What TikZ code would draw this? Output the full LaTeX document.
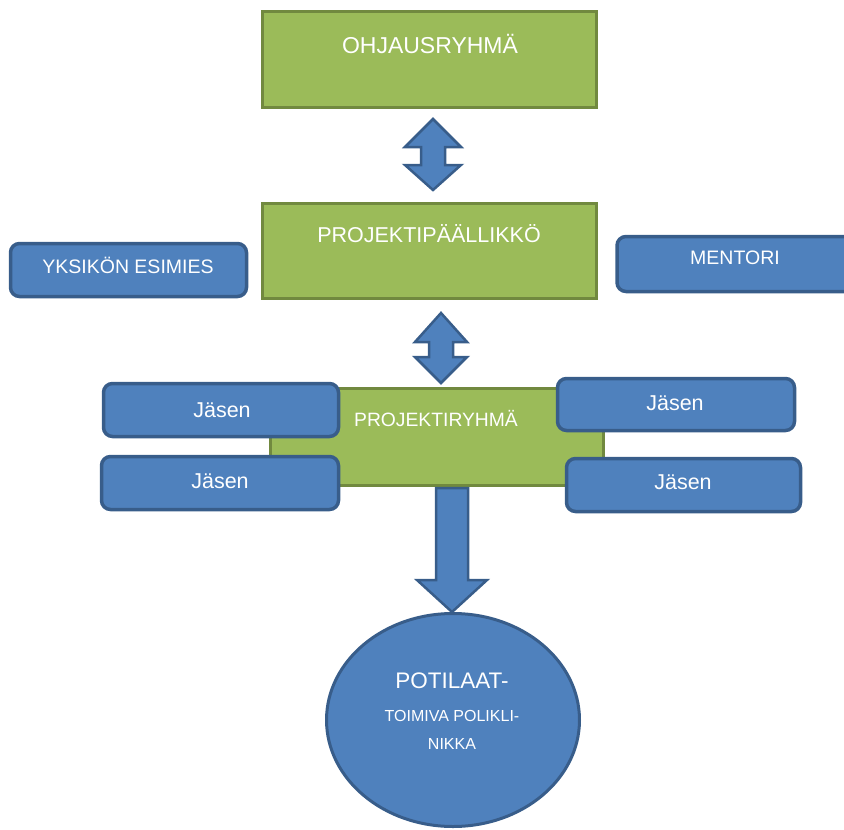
\documentclass[tikz,border=0pt]{standalone}
\usepackage{fontspec}
\setmainfont{Liberation Sans}
\usetikzlibrary{shapes.geometric}
\definecolor{gfill}{HTML}{9BBB59}
\definecolor{gline}{HTML}{71893F}
\definecolor{bfill}{HTML}{4F81BD}
\definecolor{bline}{HTML}{385D8A}
\tikzset{
  gbox/.style={draw=gline, fill=gfill, line width=3.5pt, rectangle, inner sep=0pt},
  bbox/.style={draw=bline, fill=bfill, line width=3.5pt, rectangle, rounded corners=9pt, inner sep=0pt},
  blockarrow/.style={draw=bline, fill=bfill, line width=2.5pt, line join=miter},
  txt/.style={text=white, inner sep=0pt, font=\fontsize{#1}{#1}\selectfont},
}
\begin{document}
\begin{tikzpicture}[x=1pt, y=-1pt]
\useasboundingbox (0,0) rectangle (844,830);
% green boxes
\node[gbox, minimum width=334pt, minimum height=96pt] (ohj) at (429.5,59.5) {};
\node[gbox, minimum width=334pt, minimum height=95pt] (ppl) at (429.5,251) {};
\node[gbox, minimum width=333pt, minimum height=97pt] (pr) at (437,437) {};
% blue side boxes
\node[bbox, minimum width=236pt, minimum height=53pt] (yks) at (128.5,270) {};
\node[bbox, minimum width=240pt, minimum height=55pt] (men) at (737,264) {};
% member boxes
\node[bbox, minimum width=235pt, minimum height=53pt] (j1) at (221,410) {};
\node[bbox, minimum width=237pt, minimum height=53pt] (j2) at (220,483) {};
\node[bbox, minimum width=237pt, minimum height=52pt] (j3) at (676,404.5) {};
\node[bbox, minimum width=234pt, minimum height=53pt] (j4) at (683.5,485) {};
% ellipse
\node[draw=bline, fill=bfill, line width=3pt, ellipse, minimum width=253pt, minimum height=213pt, inner sep=0pt] (pot) at (453,720) {};
% block arrows
\draw[blockarrow] (433,119) -- (461,147) -- (445,147) -- (445,165) -- (461,165) -- (433,190)
  -- (405,165) -- (421,165) -- (421,147) -- (405,147) -- cycle;
\draw[blockarrow] (441,313) -- (467,342) -- (453,342) -- (453,357) -- (467,357) -- (441,383)
  -- (415,357) -- (429,357) -- (429,342) -- (415,342) -- cycle;
\draw[blockarrow] (436,488) -- (468,488) -- (468,580) -- (487,580) -- (452,612)
  -- (417,580) -- (436,580) -- cycle;
% texts
\node[txt=23] (tohj) at (430,44) {OHJAUSRYHMÄ};
\node[txt=21.5] (tppl) at (429,234) {PROJEKTIPÄÄLLIKKÖ};
\node[txt=19.5] (tyks) at (128,265) {YKSIKÖN ESIMIES};
\node[txt=19.5] (tmen) at (735,258) {MENTORI};
\node[txt=19.3] (tpr) at (436,419) {PROJEKTIRYHMÄ};
\node[txt=21.5] (tj1) at (222,410) {Jäsen};
\node[txt=21.5] (tj2) at (220,481) {Jäsen};
\node[txt=21.5] (tj3) at (675,403) {Jäsen};
\node[txt=21.5] (tj4) at (683,482) {Jäsen};
\node[txt=22.5] (tpot1) at (452,681) {POTILAAT-};
\node[txt=16] (tpot2) at (452,716) {TOIMIVA POLIKLI-};
\node[txt=16] (tpot3) at (452,744) {NIKKA};
\end{tikzpicture}
\end{document}
